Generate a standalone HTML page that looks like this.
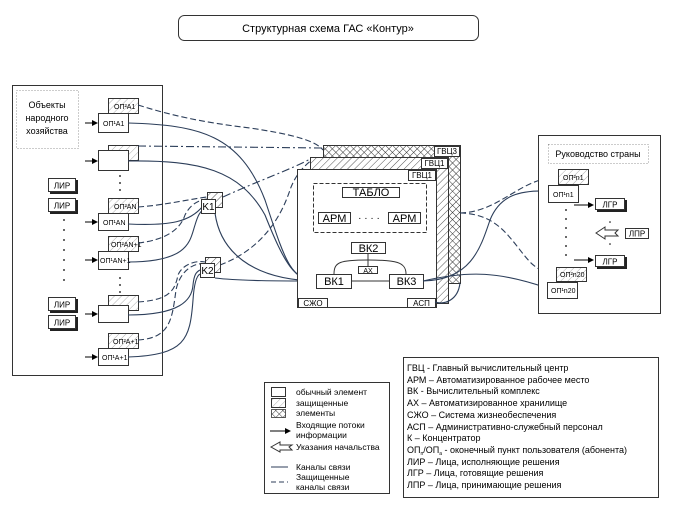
<!DOCTYPE html>
<html><head><meta charset="utf-8"><style>
html,body{margin:0;padding:0;background:#fff;}
svg{display:block;font-family:"Liberation Sans",sans-serif;}
</style></head><body>
<svg width="677" height="513" viewBox="0 0 677 513" xmlns="http://www.w3.org/2000/svg">
<defs>
<pattern id="hat" width="5" height="5" patternUnits="userSpaceOnUse" patternTransform="rotate(45)">
<rect width="5" height="5" fill="#fff"/><line x1="0" y1="0" x2="0" y2="5" stroke="#555" stroke-width="1"/></pattern>
<pattern id="hatL" width="5" height="5" patternUnits="userSpaceOnUse" patternTransform="rotate(45)">
<rect width="5" height="5" fill="#fff"/><line x1="0" y1="0" x2="0" y2="5" stroke="#999" stroke-width="0.8"/></pattern>
<pattern id="cross" width="5" height="5" patternUnits="userSpaceOnUse" patternTransform="rotate(45)">
<rect width="5" height="5" fill="#fff"/><line x1="0" y1="0" x2="0" y2="5" stroke="#333" stroke-width="1"/><line x1="0" y1="0" x2="5" y2="0" stroke="#333" stroke-width="1"/></pattern>
<marker id="ar" markerWidth="6" markerHeight="6" refX="5" refY="3" orient="auto"><path d="M0,0 L6,3 L0,6 z" fill="#000"/></marker>
</defs>

<rect x="178.5" y="15.5" width="300" height="25" rx="6" fill="#fff" stroke="#333"/>
<text x="328" y="32" font-size="11" text-anchor="middle">Структурная схема ГАС «Контур»</text>

<rect x="12.5" y="85.5" width="150" height="290" fill="#fff" stroke="#333"/>
<rect x="16.5" y="90.5" width="62" height="58" fill="none" stroke="#999" stroke-dasharray="1,2"/>
<text x="47" y="108" font-size="9" text-anchor="middle">Объекты</text>
<text x="47" y="121" font-size="9" text-anchor="middle">народного</text>
<text x="47" y="134" font-size="9" text-anchor="middle">хозяйства</text>

<g stroke="#333" font-size="7">
<rect x="108.5" y="98.5" width="30" height="15" fill="url(#hatL)"/><text x="114" y="109" stroke="none">ОП²A1</text>
<rect x="98.5" y="113.5" width="30" height="19" fill="#fff"/><text x="103" y="126" stroke="none">ОП¹A1</text>
<rect x="108.5" y="145.5" width="30" height="15" fill="url(#hatL)"/>
<rect x="98.5" y="150.5" width="30" height="20" fill="#fff"/>
<rect x="108.5" y="198.5" width="30" height="15" fill="url(#hatL)"/><text x="114" y="209" stroke="none">ОП²AN</text>
<rect x="98.5" y="213.5" width="30" height="17" fill="#fff"/><text x="103" y="225" stroke="none">ОП¹AN</text>
<rect x="108.5" y="236.5" width="30" height="15" fill="url(#hatL)"/><text x="111" y="247" stroke="none">ОП²AN+1</text>
<rect x="98.5" y="251.5" width="30" height="18" fill="#fff"/><text x="100" y="263" stroke="none">ОП¹AN+1</text>
<rect x="108.5" y="295.5" width="30" height="15" fill="url(#hatL)"/>
<rect x="98.5" y="305.5" width="30" height="17" fill="#fff"/>
<rect x="108.5" y="333.5" width="30" height="15" fill="url(#hatL)"/><text x="113" y="344" stroke="none">ОП²A+1</text>
<rect x="98.5" y="348.5" width="30" height="17" fill="#fff"/><text x="102" y="360" stroke="none">ОП¹A+1</text>
</g>
<g fill="#000"><circle cx="120" cy="176" r="0.9"/><circle cx="120" cy="183" r="0.9"/><circle cx="120" cy="190" r="0.9"/>
<circle cx="120" cy="278" r="0.9"/><circle cx="120" cy="285" r="0.9"/><circle cx="120" cy="292" r="0.9"/>
<circle cx="64" cy="220" r="0.9"/><circle cx="64" cy="230" r="0.9"/><circle cx="64" cy="240" r="0.9"/><circle cx="64" cy="250" r="0.9"/><circle cx="64" cy="260" r="0.9"/><circle cx="64" cy="270" r="0.9"/><circle cx="64" cy="280" r="0.9"/></g>
<g stroke="#000" stroke-width="1" marker-end="url(#ar)">
<line x1="85" y1="123" x2="97" y2="123"/><line x1="85" y1="161" x2="97" y2="161"/><line x1="85" y1="222" x2="97" y2="222"/>
<line x1="85" y1="260" x2="97" y2="260"/><line x1="85" y1="314" x2="97" y2="314"/><line x1="85" y1="357" x2="97" y2="357"/></g>
<g font-size="8">
<g><rect x="50" y="180" width="28" height="14" fill="#222"/><rect x="48.5" y="178.5" width="27" height="13" fill="#fff" stroke="#333"/><text x="62" y="188.5" text-anchor="middle">ЛИР</text></g>
<g><rect x="50" y="200" width="28" height="14" fill="#222"/><rect x="48.5" y="198.5" width="27" height="13" fill="#fff" stroke="#333"/><text x="62" y="208.5" text-anchor="middle">ЛИР</text></g>
<g><rect x="50" y="299" width="28" height="14" fill="#222"/><rect x="48.5" y="297.5" width="27" height="13" fill="#fff" stroke="#333"/><text x="62" y="307.5" text-anchor="middle">ЛИР</text></g>
<g><rect x="50" y="317" width="28" height="14" fill="#222"/><rect x="48.5" y="315.5" width="27" height="13" fill="#fff" stroke="#333"/><text x="62" y="325.5" text-anchor="middle">ЛИР</text></g>
</g>

<g fill="none" stroke="#2c3e5a" stroke-width="1.1">
<path d="M128,123 C200,125 240,135 265,200 C285,260 290,280 317,281"/>
<path d="M128,161 C200,160 240,170 265,215 C285,265 295,281 317,281"/>
<path d="M128,224 C170,226 190,222 203,206"/>
<path d="M128,262 C190,262 190,240 195,225 C198,215 200,212 203,210"/>
<path d="M128,315 C180,315 192,300 193,285 C194,275 196,272 200,270"/>
<path d="M128,357 C185,355 190,340 193,300 C194,285 196,276 200,274"/>
<path d="M215,213 C220,250 250,280 317,281"/>
<path d="M215,278 C240,281 280,281 317,281"/>
</g>
<g fill="none" stroke="#2c3e5a" stroke-width="1.1" stroke-dasharray="6,3">
<path d="M138,105 C170,115 200,122 250,128 C290,134 315,140 323,150"/>
<path d="M138,146 L323,148" stroke-dasharray="8,3,2,3"/>
<path d="M138,207 C165,205 185,200 207,197"/>
<path d="M138,243 C165,240 180,230 185,215 C190,205 198,200 207,199"/>
<path d="M138,302 C170,300 175,290 178,275 C182,265 195,260 205,262"/>
<path d="M138,340 C170,338 172,320 176,290 C180,270 195,262 205,264"/>
<path d="M223,197 C260,180 290,170 312,158" stroke-dasharray="8,3,2,3"/>
<path d="M220,265 C260,250 280,220 290,190 C295,175 305,165 312,160"/>
</g>

<g stroke="#333">
<rect x="207.5" y="192.5" width="15" height="15" fill="url(#hat)"/>
<rect x="201.5" y="199.5" width="14" height="14" fill="#fff"/>
<rect x="205.5" y="257.5" width="15" height="15" fill="url(#hat)"/>
<rect x="200.5" y="263.5" width="14" height="14" fill="#fff"/>
</g>
<text x="208.5" y="210" font-size="10" text-anchor="middle">K1</text>
<text x="207.5" y="274" font-size="10" text-anchor="middle">K2</text>

<g stroke="#333">
<rect x="323.5" y="145.5" width="137" height="12" fill="url(#cross)"/>
<rect x="448.5" y="145.5" width="12" height="138" fill="url(#cross)"/>
<rect x="310.5" y="157.5" width="138" height="12" fill="url(#hat)"/>
<rect x="436.5" y="157.5" width="12" height="146" fill="url(#hat)"/>
<rect x="297.5" y="169.5" width="139" height="138" fill="#fff"/>
<rect x="434.5" y="146.5" width="25" height="10" fill="#fff"/>
<rect x="421.5" y="158.5" width="26" height="10" fill="#fff"/>
<rect x="408.5" y="170.5" width="27" height="10" fill="#fff"/>
<rect x="313.5" y="183.5" width="113" height="49" fill="none" stroke-dasharray="4,2"/>
<rect x="342.5" y="187.5" width="57" height="10" fill="#fff"/>
<rect x="318.5" y="212.5" width="32" height="11" fill="#fff"/>
<rect x="388.5" y="212.5" width="32" height="11" fill="#fff"/>
<rect x="351.5" y="242.5" width="34" height="11" fill="#fff"/>
<rect x="358.5" y="266.5" width="19" height="7" fill="#fff"/>
<rect x="316.5" y="274.5" width="35" height="14" fill="#fff"/>
<rect x="389.5" y="274.5" width="34" height="14" fill="#fff"/>
<rect x="298.5" y="298.5" width="29" height="9" fill="#fff"/>
<rect x="407.5" y="298.5" width="28" height="9" fill="#fff"/>
</g>
<g font-size="8"><text x="447" y="154" text-anchor="middle">ГВЦ3</text><text x="434.5" y="166" text-anchor="middle">ГВЦ1</text><text x="422" y="178" text-anchor="middle">ГВЦ1</text>
<text x="313" y="306" text-anchor="middle">СЖО</text><text x="421.5" y="306" text-anchor="middle">АСП</text><text x="368" y="273" text-anchor="middle" font-size="7">АХ</text></g>
<g font-size="11" text-anchor="middle"><text x="371" y="196">ТАБЛО</text><text x="334.5" y="222">АРМ</text><text x="404.5" y="222">АРМ</text><text x="368.5" y="252">ВК2</text><text x="334" y="285">ВК1</text><text x="406.5" y="285">ВК3</text></g>
<text x="369" y="221" font-size="10" text-anchor="middle">· · · ·</text>
<g fill="none" stroke="#333"><path d="M351,281 L389,281"/><path d="M334,274 C334,262 340,260 368,260 C396,260 406,262 406,274"/><path d="M368,253 L368,266"/></g>

<g fill="none" stroke="#2c3e5a" stroke-width="1.1">
<path d="M423,281 C470,280 480,250 490,220 C500,195 520,190 548,191"/>
<path d="M423,281 C470,270 500,272 547,288"/>
<path d="M435,302 C445,305 458,300 460,283"/>
</g>
<g fill="none" stroke="#2c3e5a" stroke-width="1.1" stroke-dasharray="6,3">
<path d="M460,213 C500,212 520,178 558,177"/>
<path d="M460,213 C500,214 510,240 530,262 C540,272 550,274 556,274"/>
</g>

<rect x="538.5" y="135.5" width="122" height="178" fill="#fff" stroke="#333"/>
<rect x="548.5" y="144.5" width="100" height="19" fill="none" stroke="#999" stroke-dasharray="1,2"/>
<text x="598" y="157" font-size="9" text-anchor="middle">Руководство страны</text>
<g stroke="#333" font-size="7">
<rect x="558.5" y="169.5" width="30" height="15" fill="url(#hatL)"/><text x="563" y="180" stroke="none">ОП²n1</text>
<rect x="548.5" y="185.5" width="30" height="17" fill="#fff"/><text x="553" y="197" stroke="none">ОП¹n1</text>
<rect x="556.5" y="267.5" width="30" height="14" fill="url(#hatL)"/><text x="560" y="277" stroke="none">ОП²n20</text>
<rect x="547.5" y="282.5" width="30" height="16" fill="#fff"/><text x="551" y="293" stroke="none">ОП¹n20</text>
</g>
<g fill="#000"><circle cx="566" cy="210" r="0.9"/><circle cx="566" cy="219" r="0.9"/><circle cx="566" cy="228" r="0.9"/><circle cx="566" cy="237" r="0.9"/><circle cx="566" cy="246" r="0.9"/><circle cx="566" cy="255" r="0.9"/>
<circle cx="610" cy="222" r="0.8"/><circle cx="610" cy="244" r="0.8"/></g>
<g stroke="#000" marker-end="url(#ar)"><line x1="574" y1="205" x2="593" y2="205"/><line x1="574" y1="260" x2="593" y2="260"/></g>
<g font-size="8">
<g><rect x="597" y="200" width="30" height="12" fill="#222"/><rect x="595.5" y="198.5" width="29" height="11" fill="#fff" stroke="#333"/><text x="610" y="207.5" text-anchor="middle">ЛГР</text></g>
<g><rect x="597" y="257" width="30" height="12" fill="#222"/><rect x="595.5" y="255.5" width="29" height="11" fill="#fff" stroke="#333"/><text x="610" y="264.5" text-anchor="middle">ЛГР</text></g>
<rect x="625.5" y="228.5" width="23" height="10" fill="#fff" stroke="#333"/><text x="637" y="236.5" text-anchor="middle">ЛПР</text>
</g>
<path d="M596,233 L605,227 L605,230 L618,230 L615,233 L618,236 L605,236 L605,239 Z" fill="#fff" stroke="#333"/>

<rect x="264.5" y="382.5" width="125" height="111" fill="#fff" stroke="#333"/>
<g stroke="#333"><rect x="271.5" y="387.5" width="14" height="9" fill="#fff"/><rect x="271.5" y="398.5" width="14" height="9" fill="url(#hatL)"/><rect x="271.5" y="409.5" width="14" height="8" fill="url(#cross)" stroke-width="0.8"/></g>
<line x1="270" y1="431" x2="290" y2="431" stroke="#000" marker-end="url(#ar)"/>
<path d="M271,447 L280,442 L280,445 L292,445 L289,447 L292,450 L280,450 L280,452 Z" fill="#fff" stroke="#333"/>
<line x1="271" y1="467" x2="288" y2="467" stroke="#2c3e5a"/>
<line x1="271" y1="482" x2="288" y2="482" stroke="#2c3e5a" stroke-dasharray="5,3"/>
<g font-size="8.5"><text x="296" y="395">обычный элемент</text><text x="296" y="406">защищенные</text><text x="296" y="416">элементы</text>
<text x="296" y="428">Входящие потоки</text><text x="296" y="438">информации</text><text x="296" y="450">Указания начальства</text>
<text x="296" y="470">Каналы связи</text><text x="296" y="480">Защищенные</text><text x="296" y="490">каналы связи</text></g>

<rect x="403.5" y="357.5" width="255" height="140" fill="#fff" stroke="#333"/>
<g font-size="9"><text x="407" y="371">ГВЦ - Главный вычислительный центр</text>
<text x="407" y="383">АРМ – Автоматизированное рабочее место</text>
<text x="407" y="394">ВК - Вычислительный комплекс</text>
<text x="407" y="406">АХ – Автоматизированное хранилище</text>
<text x="407" y="418">СЖО – Система жизнеобеспечения</text>
<text x="407" y="430">АСП – Административно-служебный персонал</text>
<text x="407" y="441">К – Концентратор</text>
<text x="407" y="453">ОП<tspan font-size="5" dy="2">п</tspan><tspan dy="-2">/ОП</tspan><tspan font-size="5" dy="2">а</tspan><tspan dy="-2"> - оконечный пункт пользователя (абонента)</tspan></text>
<text x="407" y="465">ЛИР – Лица, исполняющие решения</text>
<text x="407" y="476">ЛГР – Лица, готовящие решения</text>
<text x="407" y="488">ЛПР – Лица, принимающие решения</text></g>
</svg>
</body></html>
